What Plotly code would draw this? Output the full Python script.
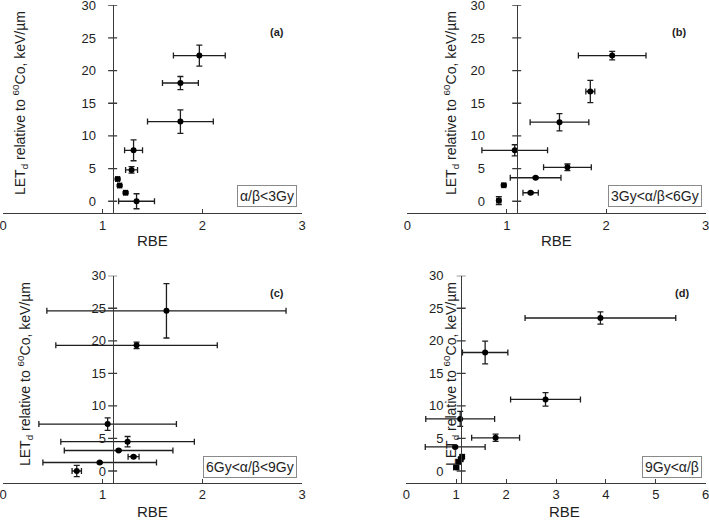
import plotly.graph_objects as go

# ---------------- data ----------------
a_rbe = [1.97, 1.78, 1.78, 1.31, 1.29, 1.15, 1.17, 1.23, 1.34]
a_let = [22.3, 18.1, 12.2, 7.8, 4.8, 3.4, 2.4, 1.3, 0.0]
a_rbe_err = [0.26, 0.18, 0.33, 0.09, 0.06, 0.02, 0.02, 0.02, 0.18]
a_let_err = [1.6, 1.0, 1.8, 1.6, 0.5, 0.15, 0.15, 0.15, 1.15]

b_rbe = [2.06, 1.84, 1.53, 1.08, 1.61, 1.29, 0.97, 1.24, 0.92]
b_let = [22.3, 16.8, 12.1, 7.8, 5.2, 3.6, 2.45, 1.3, 0.1]
b_rbe_err = [0.34, 0.045, 0.295, 0.33, 0.24, 0.255, 0.02, 0.077, 0.02]
b_let_err = [0.65, 1.7, 1.33, 0.85, 0.5, 0.15, 0.15, 0.15, 0.6]

c_rbe = [1.64, 1.34, 1.05, 1.25, 1.16, 1.31, 0.97, 0.74]
c_let = [24.6, 19.3, 7.2, 4.5, 3.15, 2.2, 1.3, 0.0]
c_rbe_err = [1.2, 0.81, 0.69, 0.67, 0.545, 0.055, 0.57, 0.047]
c_let_err = [4.17, 0.5, 0.97, 0.8, 0.15, 0.15, 0.15, 0.87]

d_rbe = [3.89, 1.58, 2.79, 1.08, 1.79, 0.98, 1.12, 1.09, 1.05, 1.00]
d_let = [23.5, 18.2, 11.0, 8.0, 5.1, 3.7, 2.2, 1.8, 1.4, 0.55]
d_rbe_err = [1.51, 0.455, 0.70, 0.69, 0.48, 0.6, 0.04, 0.04, 0.04, 0.05]
d_let_err = [0.95, 1.74, 1.03, 1.15, 0.55, 0.15, 0.3, 0.3, 0.3, 0.3]

panel_labels = ["(a)", "(b)", "(c)", "(d)"]
box_labels = ["α/β<3Gy", "3Gy<α/β<6Gy", "6Gy<α/β<9Gy", "9Gy<α/β"]
x_ticks_3 = [0, 1, 2, 3]
x_ticks_6 = [0, 1, 2, 3, 4, 5, 6]
y_ticks = [0, 5, 10, 15, 20, 25, 30]
y_cross = 1.1
y_title = "LET<sub>d</sub> relative to <sup>60</sup>Co, keV/µm"
x_title = "RBE"

# ---------------- layout helpers ----------------
W, H = 709, 520
FONT = "Liberation Sans, Arial, sans-serif"
INK = "#1e1e1e"
LINE = "#3a3a3a"

def px_x(p):
    return p / W

def px_y(p):
    return 1 - p / H

panels = [
    dict(xs=a_rbe, ys=a_let, xe=a_rbe_err, ye=a_let_err, xmax=3, xt=x_ticks_3,
         dom_x=(3, 302), dom_y=(5.3, 213), standoff=14,
         ytitle=(20, 103), xtitle=(152, 240), lab=(277, 32), box=(297, 207)),
    dict(xs=b_rbe, ys=b_let, xe=b_rbe_err, ye=b_let_err, xmax=3, xt=x_ticks_3,
         dom_x=(407.3, 705.7), dom_y=(5.3, 213), standoff=29,
         ytitle=(451, 103), xtitle=(556, 240), lab=(679, 32), box=(702, 207)),
    dict(xs=c_rbe, ys=c_let, xe=c_rbe_err, ye=c_let_err, xmax=3, xt=x_ticks_3,
         dom_x=(3, 302), dom_y=(275.7, 482.7), standoff=4,
         ytitle=(25, 374), xtitle=(152, 511), lab=(277, 293), box=(297, 478)),
    dict(xs=d_rbe, ys=d_let, xe=d_rbe_err, ye=d_let_err, xmax=6, xt=x_ticks_6,
         dom_x=(406.3, 705.7), dom_y=(275.7, 482.7), standoff=15,
         ytitle=(451, 374), xtitle=(564, 511), lab=(682, 293), box=(702, 478)),
]

fig = go.Figure()
layout = dict(
    width=W, height=H,
    margin=dict(l=0, r=0, t=0, b=0, autoexpand=False),
    paper_bgcolor="white", plot_bgcolor="white",
    showlegend=False,
    font=dict(family=FONT, color=INK, size=13),
)
annotations = []
shapes = []

for i, p in enumerate(panels):
    n = i + 1
    xa = "x" if n == 1 else f"x{n}"
    ya = "y" if n == 1 else f"y{n}"
    xkey = "xaxis" if n == 1 else f"xaxis{n}"
    ykey = "yaxis" if n == 1 else f"yaxis{n}"

    fig.add_trace(go.Scatter(
        x=p["xs"], y=p["ys"], mode="markers",
        marker=dict(color="black", size=6),
        error_x=dict(type="data", array=p["xe"], color=INK, thickness=1.3, width=3),
        error_y=dict(type="data", array=p["ye"], color=INK, thickness=1.3, width=3),
        xaxis=xa, yaxis=ya, cliponaxis=False,
    ))

    dx0, dx1 = px_x(p["dom_x"][0]), px_x(p["dom_x"][1])
    dy0, dy1 = px_y(p["dom_y"][1]), px_y(p["dom_y"][0])
    ypos = dx0 + (y_cross - 0) / p["xmax"] * (dx1 - dx0)

    layout[xkey] = dict(
        domain=[dx0, dx1], range=[0, p["xmax"]], anchor=ya, automargin=False,
        tickvals=p["xt"], ticktext=[str(t) for t in p["xt"]],
        ticks="inside", ticklen=4, tickwidth=1.3, tickcolor=LINE,
        showline=True, linecolor=LINE, linewidth=1.3,
        showgrid=False, zeroline=False, ticklabeloverflow="allow",
        tickfont=dict(size=13, color=INK, family=FONT),
    )
    layout[ykey] = dict(
        domain=[dy0, dy1], range=[-1.8, 30], anchor="free", position=ypos,
        automargin=False, ticklabeloverflow="allow",
        tickvals=y_ticks, ticktext=[str(t) for t in y_ticks],
        ticks="", ticklabelstandoff=p["standoff"],
        showline=True, linecolor=LINE, linewidth=1.3,
        showgrid=False, zeroline=False,
        tickfont=dict(size=13, color=INK, family=FONT),
    )

    # cross-style y ticks drawn at each tick value
    for t in y_ticks:
        shapes.append(dict(
            type="line", xref=xa, yref=ya, xsizemode="pixel", xanchor=y_cross,
            x0=-4.5, x1=4.5, y0=t, y1=t, line=dict(color=LINE, width=1.3),
        ))

    annotations.append(dict(
        text=y_title, xref="paper", yref="paper",
        x=px_x(p["ytitle"][0]), y=px_y(p["ytitle"][1]),
        xanchor="center", yanchor="middle", textangle=-90, showarrow=False,
        font=dict(size=14, family=FONT, color=INK),
    ))
    annotations.append(dict(
        text=x_title, xref="paper", yref="paper",
        x=px_x(p["xtitle"][0]), y=px_y(p["xtitle"][1]),
        xanchor="center", yanchor="middle", showarrow=False,
        font=dict(size=15, family=FONT, color=INK),
    ))
    annotations.append(dict(
        text="<b>" + panel_labels[i] + "</b>", xref="paper", yref="paper",
        x=px_x(p["lab"][0]), y=px_y(p["lab"][1]),
        xanchor="center", yanchor="middle", showarrow=False,
        font=dict(size=11, family=FONT, color=INK),
    ))
    annotations.append(dict(
        text=box_labels[i], xref="paper", yref="paper",
        x=px_x(p["box"][0]), y=px_y(p["box"][1]),
        xanchor="right", yanchor="bottom", showarrow=False,
        bordercolor="#8a8a8a", borderwidth=1, borderpad=2, bgcolor="white",
        font=dict(size=14, family=FONT, color=INK),
    ))

layout["annotations"] = annotations
layout["shapes"] = shapes
fig.update_layout(**layout)
fig.write_html(
    "out.html",
    config={"displayModeBar": False},
    post_script="document.body.style.margin='0';document.body.style.overflow='hidden';",
)
